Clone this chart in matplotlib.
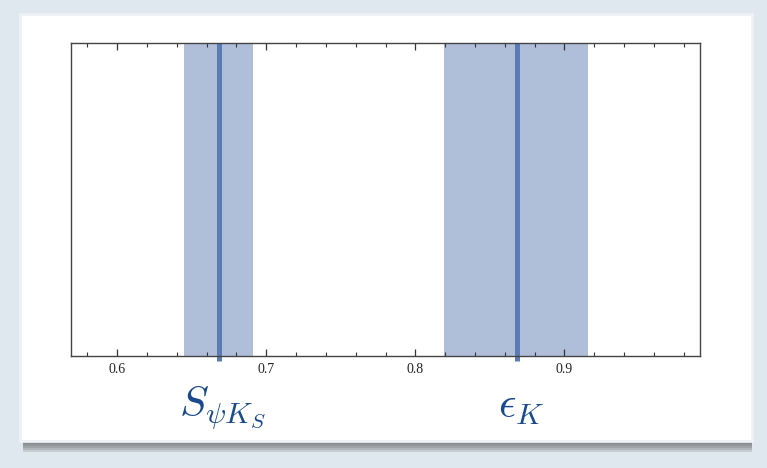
import numpy as np
import matplotlib.pyplot as plt
from matplotlib.patches import Rectangle
from matplotlib.ticker import MultipleLocator

# measured constraints: central value and 1 sigma range
names = [r'$S_{\psi K_S}$', r'$\epsilon_K$']
central = [0.668, 0.868]
lower = [0.645, 0.819]
upper = [0.691, 0.916]

plt.rcParams['font.family'] = ['Liberation Serif', 'DejaVu Serif']
plt.rcParams['mathtext.fontset'] = 'cm'

fig = plt.figure(figsize=(7.67, 4.68), dpi=100)
fig.patch.set_facecolor('#dfe7ef')

# soft shadow under the paper card
for i in range(6):
    fig.patches.append(Rectangle((0.03, 0.035 + i * 0.004), 0.95, 0.03, transform=fig.transFigure,
                                 facecolor='#555555', edgecolor='none', alpha=0.18, zorder=0))
fig.patches.append(Rectangle((0.026, 0.058), 0.955, 0.912, transform=fig.transFigure,
                             facecolor='white', edgecolor='#eef2f6', lw=2, zorder=1))

ax = fig.add_axes([71/767, 1-356/468, (700-71)/767, (356-43)/468])
ax.set_zorder(2)
ax.set_xlim(0.569, 0.991)
ax.set_ylim(0, 1)

for c, lo, hi, name in zip(central, lower, upper, names):
    ax.axvspan(lo, hi, color='#b0bfd9', lw=0, zorder=1)
    ax.plot([c, c], [-0.015, 1], color='#5b7bb5', lw=3.6, solid_capstyle='butt',
            clip_on=False, zorder=2)
    ax.text(c + 0.003, -0.165, name, transform=ax.get_xaxis_transform(), ha='center', va='center',
            fontsize=31, color='#1b4a8c')

ax.xaxis.set_major_locator(MultipleLocator(0.1))
ax.xaxis.set_minor_locator(MultipleLocator(0.02))
ax.xaxis.set_major_formatter(plt.FuncFormatter(lambda v, p: f'{v:.1f}'))
ax.tick_params(axis='x', which='both', direction='in', top=True, bottom=True,
               labelsize=10, color='#333333', labelcolor='#222222', pad=5)
ax.tick_params(axis='x', which='major', length=5, width=0.9)
ax.tick_params(axis='x', which='minor', length=3, width=0.8)
ax.set_yticks([])
for s in ax.spines.values():
    s.set_color('#444444')
    s.set_linewidth(1.0)

fig.savefig('out.png', dpi=100, facecolor=fig.get_facecolor())
